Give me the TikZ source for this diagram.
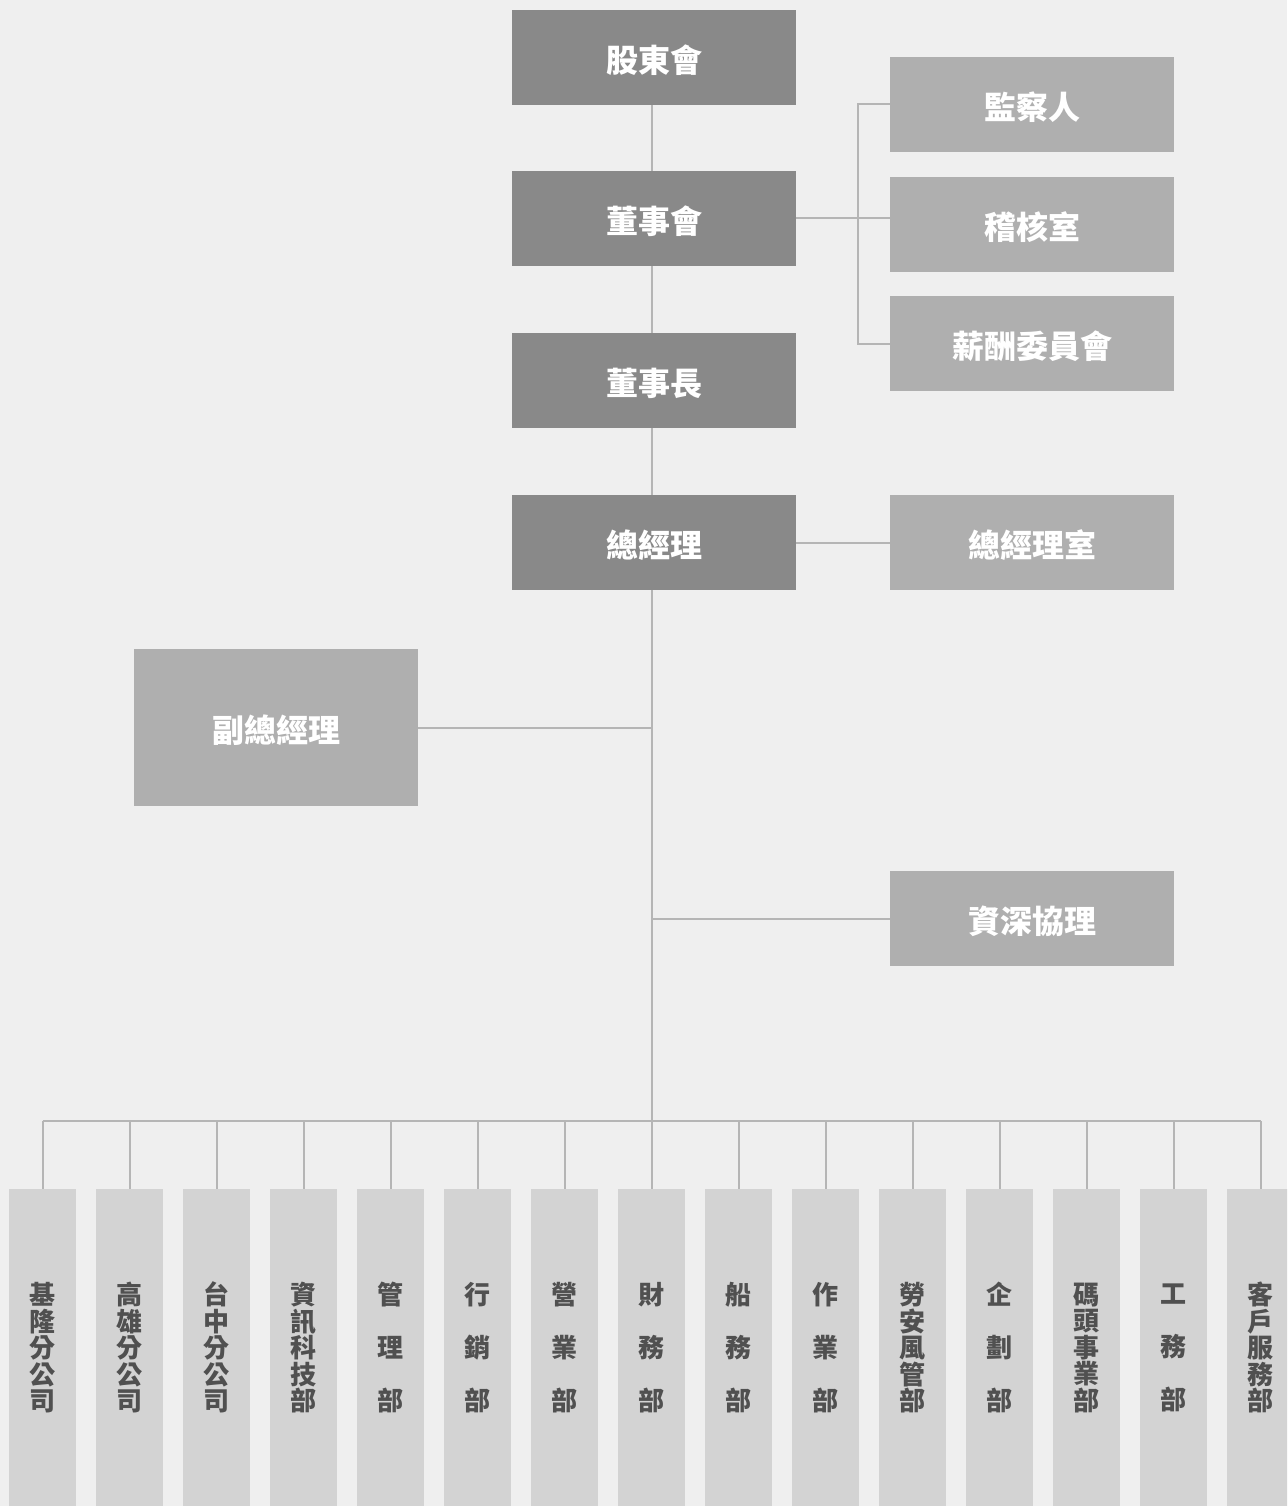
\documentclass[tikz,border=0pt]{standalone}
\usepackage{fontspec}
\setmainfont{Noto Sans CJK TC}
\definecolor{bgc}{HTML}{EFEFEF}
\definecolor{darkc}{HTML}{898989}
\definecolor{lightc}{HTML}{AFAFAF}
\definecolor{botc}{HTML}{D3D3D3}
\definecolor{linec}{HTML}{B5B5B5}
\definecolor{txtc}{HTML}{505050}
\begin{document}
\begin{tikzpicture}[x=1pt,y=-1pt,
  topbox/.style={fill=darkc, draw=none, minimum width=284pt, minimum height=95pt, inner sep=0pt, text=white, text height=30pt, text depth=0pt, font=\fontsize{32}{36}\selectfont\bfseries},
  sidebox/.style={topbox, fill=lightc},
  botbox/.style={fill=botc, draw=none, minimum width=67pt, minimum height=317pt, inner sep=0pt, anchor=north, text=txtc, align=center},
  botthree/.style={botbox, font=\fontsize{26}{53}\selectfont\bfseries},
  botfive/.style={botbox, font=\fontsize{26}{26.5}\selectfont\bfseries},
  conn/.style={draw=linec, line width=2pt}]
\fill[bgc] (0,0) rectangle (1287,1506);
\useasboundingbox (0,0) rectangle (1287,1506);
\clip (0,0) rectangle (1287,1506);

% top column
\node[topbox] (sh) at (654,57.5) {股東會};
\node[topbox] (bd) at (654,218.5) {董事會};
\node[topbox] (ch) at (654,380.5) {董事長};
\node[topbox] (gm) at (654,542.5) {總經理};

% right side
\node[sidebox] (sup) at (1032,104.5) {監察人};
\node[sidebox] (aud) at (1032,224.5) {稽核室};
\node[sidebox] (rem) at (1032,343.5) {薪酬委員會};
\node[sidebox] (gmo) at (1032,542.5) {總經理室};
\node[sidebox] (sr) at (1032,918.5) {資深協理};
\node[sidebox, minimum height=157pt] (vgm) at (276,727.5) {副總經理};

% bottom boxes
\node[botfive]  (b1)  at (42.5,1189)  {基\\隆\\分\\公\\司};
\node[botfive]  (b2)  at (129.5,1189) {高\\雄\\分\\公\\司};
\node[botfive]  (b3)  at (216.5,1189) {台\\中\\分\\公\\司};
\node[botfive]  (b4)  at (303.5,1189) {資\\訊\\科\\技\\部};
\node[botthree] (b5)  at (390.5,1189) {管\\理\\部};
\node[botthree] (b6)  at (477.5,1189) {行\\銷\\部};
\node[botthree] (b7)  at (564.5,1189) {營\\業\\部};
\node[botthree] (b8)  at (651.5,1189) {財\\務\\部};
\node[botthree] (b9)  at (738.5,1189) {船\\務\\部};
\node[botthree] (b10) at (825.5,1189) {作\\業\\部};
\node[botfive]  (b11) at (912.5,1189) {勞\\安\\風\\管\\部};
\node[botthree] (b12) at (999.5,1189) {企\\劃\\部};
\node[botfive]  (b13) at (1086.5,1189) {碼\\頭\\事\\業\\部};
\node[botthree] (b14) at (1173.5,1189) {工\\務\\部};
\node[botfive]  (b15) at (1260.5,1189) {客\\戶\\服\\務\\部};

\coordinate (bus) at (651.5,1121);
\coordinate (br) at (858,218.5);

% connectors
\draw[conn] (sh.south -| bus) -- (bd.north -| bus);
\draw[conn] (bd.south -| bus) -- (ch.north -| bus);
\draw[conn] (ch.south -| bus) -- (gm.north -| bus);
\draw[conn] (gm.south -| bus) -- (bus);
\draw[conn] (bd.east) -- (bd.east -| aud.west);
\draw[conn] (sup.west) -| (br) |- (rem.west);
\draw[conn] (gm.east) -- (gmo.west);
\draw[conn] (vgm.east) -- (vgm.east -| bus);
\draw[conn] (sr.west -| bus) -- (sr.west);
\draw[conn] (b1.north |- bus) -- (b15.north |- bus);
\foreach \i in {1,...,15} {
  \draw[conn] (b\i.north |- bus) -- (b\i.north);
}
\end{tikzpicture}
\end{document}
